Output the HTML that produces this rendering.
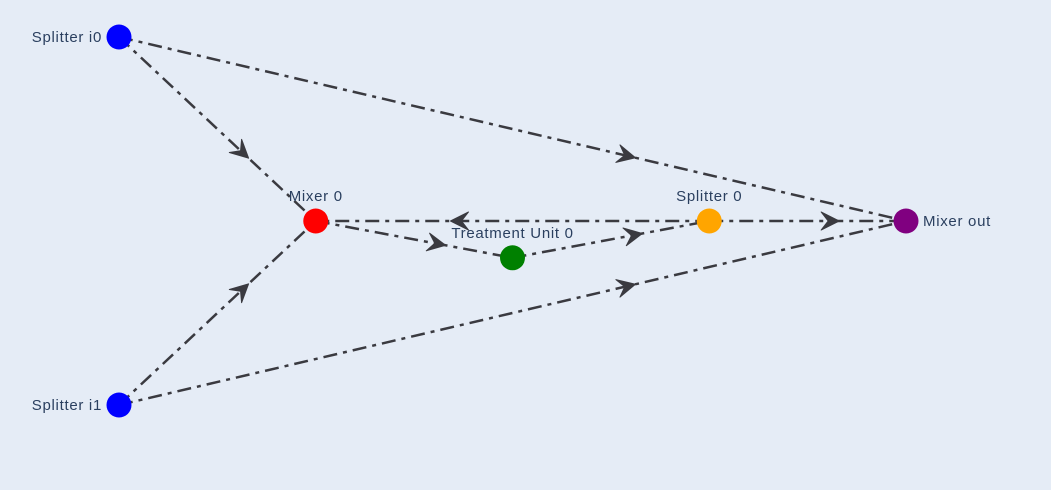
<!DOCTYPE html>
<html><head><meta charset="utf-8"><style>
html,body{margin:0;padding:0;background:#e5ecf6;}
svg{display:block;font-family:"Liberation Sans",sans-serif;}
</style></head><body>
<svg id="chart" width="1051" height="490">
<rect width="1051" height="490" fill="#e5ecf6"/>
<g id="edges"></g><g id="nodes"></g>
</svg>
<script>
const nodeNames=["Splitter i0","Splitter i1","Mixer 0","Treatment Unit 0","Splitter 0","Mixer out"];
const nodeX=[0,0,1,2,3,4];
const nodeY=[1,-1,0,-0.2,0,0];
const nodeColors=["blue","blue","red","green","orange","purple"];
const labelPos=["left","left","top","top","top","right"];
const edgeFrom=[0,1,0,1,2,3,4,4];
const edgeTo=[2,2,5,5,3,4,2,5];
const ns="http://www.w3.org/2000/svg";
function sx(v){return 119+v*196.75;}
function sy(v){return 221-v*184;}
const eg=document.getElementById('edges'),ng=document.getElementById('nodes');
for(let i=0;i<edgeFrom.length;i++){
  const x1=sx(nodeX[edgeFrom[i]]),y1=sy(nodeY[edgeFrom[i]]),x2=sx(nodeX[edgeTo[i]]),y2=sy(nodeY[edgeTo[i]]);
  const l=document.createElementNS(ns,'line');
  
  
  l.setAttribute('x1',x1);l.setAttribute('y1',y1);l.setAttribute('x2',x2);l.setAttribute('y2',y2);
  l.setAttribute('stroke','#3a3a40');l.setAttribute('stroke-width','2.5');l.setAttribute('stroke-dasharray','14,6,4,6');
  eg.appendChild(l);
  const t=0.655,tx=x1+(x2-x1)*t,ty=y1+(y2-y1)*t,a=Math.atan2(y2-y1,x2-x1)*180/Math.PI;
  const p=document.createElementNS(ns,'path');
  
  
  p.setAttribute('d','M1,0 L-17,-9 L-10,0 L-17,9 Z');
  p.setAttribute('fill','#3a3a40');p.setAttribute('stroke','#3a3a40');p.setAttribute('stroke-width','1');
  p.setAttribute('stroke-linejoin','round');
  p.setAttribute('transform','translate('+tx+','+ty+') rotate('+a+')');
  eg.appendChild(p);
}
for(let i=0;i<nodeNames.length;i++){
  const x=sx(nodeX[i]),y=sy(nodeY[i]);
  const c=document.createElementNS(ns,'circle');
  
  
  c.setAttribute('cx',x);c.setAttribute('cy',y);c.setAttribute('r',12.5);c.setAttribute('fill',nodeColors[i]);
  ng.appendChild(c);
  const t=document.createElementNS(ns,'text');
  
  
  t.setAttribute('font-size','15');t.setAttribute('fill','#2a3f5f');t.setAttribute('letter-spacing','0.7');
  if(labelPos[i]==='left'){t.setAttribute('x',x-17);t.setAttribute('y',y+5);t.setAttribute('text-anchor','end');}
  else if(labelPos[i]==='right'){t.setAttribute('x',x+17);t.setAttribute('y',y+5);}
  else{t.setAttribute('x',x);t.setAttribute('y',y-20);t.setAttribute('text-anchor','middle');}
  t.textContent=nodeNames[i];
  ng.appendChild(t);
}
</script>
</body></html>
